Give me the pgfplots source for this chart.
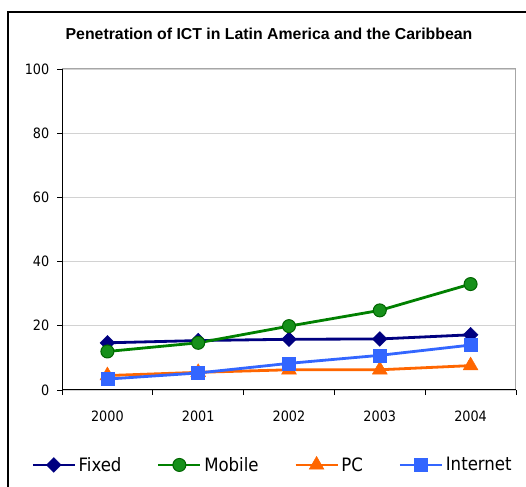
\documentclass[border=0pt]{standalone}
\usepackage{fontspec}
\setmainfont{Liberation Sans}
\newfontfamily\tahoma{DejaVu Sans Condensed}
\usepackage{pgfplots}
\pgfplotsset{compat=1.18}
\definecolor{cfixed}{HTML}{000080}
\definecolor{cmobile}{HTML}{008000}
\definecolor{cmobilefill}{HTML}{16901A}
\definecolor{cmobileedge}{HTML}{006400}
\definecolor{cpc}{HTML}{FF6600}
\definecolor{cinet}{HTML}{3366FF}
\begin{document}
\begin{tikzpicture}
\useasboundingbox (0bp,0bp) rectangle (526bp,487bp);
\fill[black] (6.5bp,0bp) rectangle (8.5bp,476bp);
\fill[black] (6.5bp,474bp) rectangle (526bp,476bp);
\node[font=\bfseries\fontsize{15.9}{18}\selectfont] at (269bp,453bp) {Penetration of ICT in Latin America and the Caribbean};
\begin{axis}[
  at={(62bp,97bp)}, anchor=south west,
  width=454bp, height=321bp, scale only axis,
  xmin=-0.5, xmax=4.5, ymin=0, ymax=100,
  xtick={0,1,2,3,4}, xticklabels={2000,2001,2002,2003,2004},
  minor xtick={-0.5,0.5,1.5,2.5,3.5,4.5},
  ytick={0,20,40,60,80,100},
  /pgf/number format/assume math mode=true,
  xtick pos=bottom, ytick pos=left,
  tick align=outside,
  major tick length=5bp, minor tick length=5bp,
  major x tick style={draw=none},
  minor x tick style={black, line width=0.8bp},
  y tick style={black, line width=0.8bp},
  ymajorgrids, grid style={gray!35, line width=0.8bp},
  axis line style={gray!70, line width=1bp},
  tick label style={font=\tahoma\fontsize{14.3}{16}\selectfont},
  xticklabel style={yshift=-11bp},
  yticklabel style={xshift=-3bp},
  legend columns=4,
  legend style={draw=none, fill=none, inner sep=0pt,
    at={(axis description cs:-0.0705,-0.2335)}, anchor=west,
    font=\tahoma\fontsize{18.5}{20}\selectfont,
    nodes={inner sep=2.5bp},
    /tikz/every even column/.append style={column sep=33bp}},
  legend image code/.code={\draw[mark repeat=2,mark phase=2,#1] plot coordinates {(0bp,0bp) (21bp,0bp) (42bp,0bp)};},
  line width=2.8bp,
]
\addplot[color=cfixed, mark=square*, mark size=5.2bp, mark options={rotate=45, line width=0.5bp, fill=cfixed}]
  coordinates {(0,14.7) (1,15.4) (2,15.8) (3,15.9) (4,17.2)};
\addlegendentry{Fixed}
\addplot[color=cmobile, mark=*, mark size=6.5bp, mark options={line width=1bp, draw=cmobileedge, fill=cmobilefill}]
  coordinates {(0,12.0) (1,14.7) (2,19.9) (3,24.8) (4,33.0)};
\addlegendentry{Mobile}
\addplot[color=cpc, mark=triangle*, mark size=8.5bp, mark options={line width=0.5bp, fill=cpc}]
  coordinates {(0,4.5) (1,5.5) (2,6.3) (3,6.3) (4,7.6)};
\addlegendentry{PC}
\addplot[color=cinet, mark=square*, mark size=6.5bp, mark options={line width=0.5bp, fill=cinet}]
  coordinates {(0,3.4) (1,5.3) (2,8.3) (3,10.8) (4,14.0)};
\addlegendentry{Internet}
\draw[black, line width=1.2bp] (rel axis cs:0,1) -- (rel axis cs:0,0) -- (rel axis cs:1,0);
\end{axis}
\end{tikzpicture}
\end{document}
